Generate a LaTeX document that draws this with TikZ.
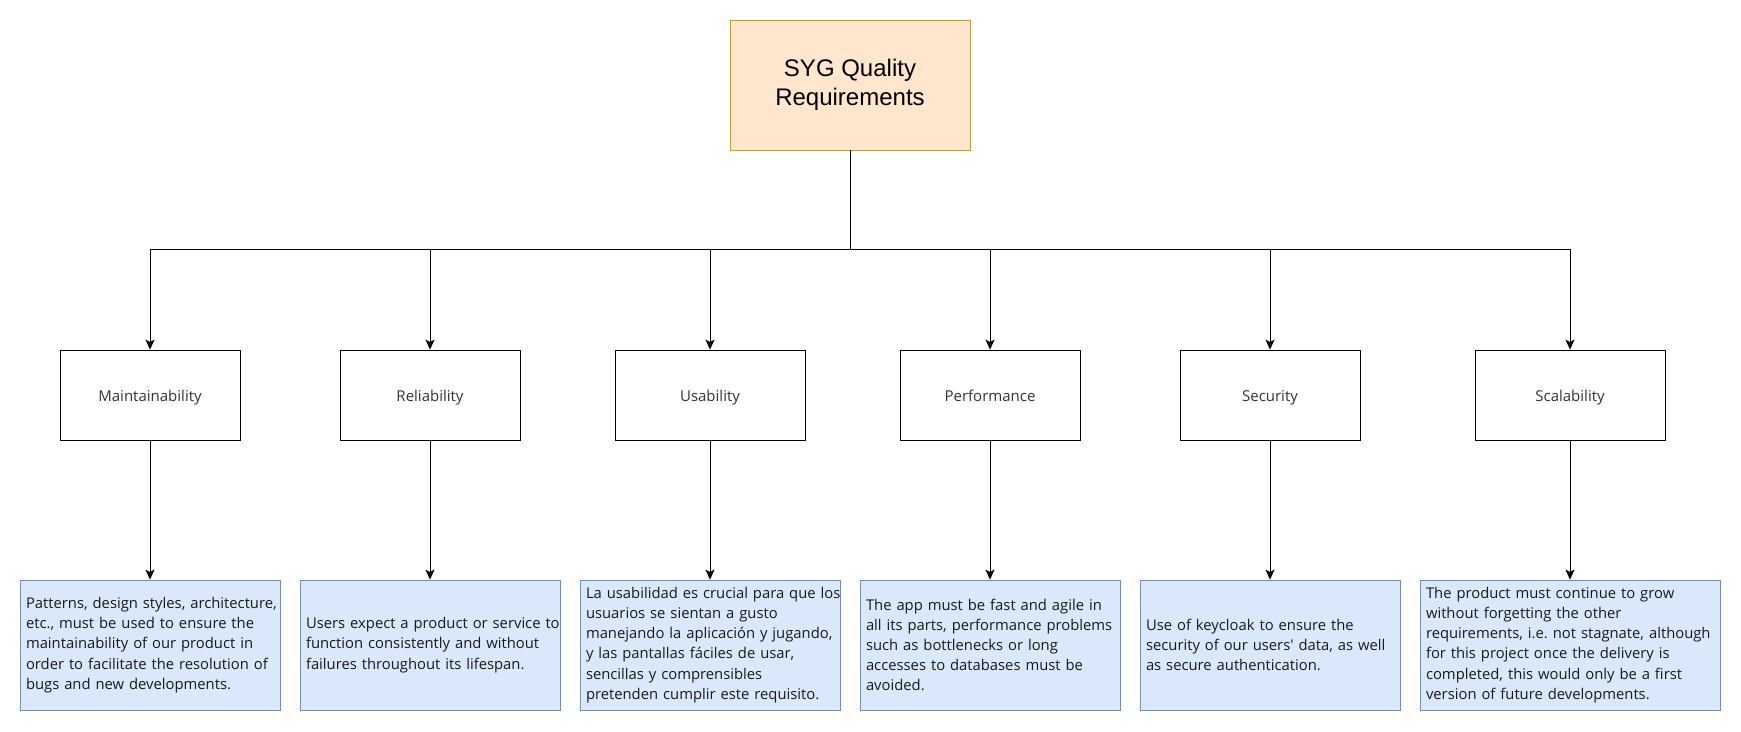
\documentclass[tikz,border=0pt]{standalone}
\usepackage{fontspec}
\setmainfont{Open Sans}[Ligatures=TeXOff]
\newfontfamily\titlefont{Liberation Sans}
\usetikzlibrary{arrows.meta, positioning}
\frenchspacing

\definecolor{titlefill}{HTML}{FFE6CC}
\definecolor{titleline}{HTML}{D79B00}
\definecolor{descfill}{HTML}{DAE8FC}
\definecolor{descline}{HTML}{6C8EBF}
\definecolor{labeltext}{HTML}{333333}

\tikzset{
  mainbox/.style={draw=titleline, fill=titlefill, minimum width=120pt, minimum height=65pt,
    align=center, font=\titlefont\fontsize{12}{14.5}\selectfont},
  catbox/.style={draw, fill=white, minimum width=90pt, minimum height=45pt,
    text height=8.5pt, text depth=1.7pt,
    font=\fontsize{7.5}{9}\selectfont, text=labeltext},
  descbox/.style={draw=descline, fill=descfill, inner xsep=3pt, text width=124pt,
    minimum height=65pt, align=left, font=\fontsize{7.4}{10.1}\selectfont, text=black!90,
    execute at begin node={\rightskip=-8pt plus 1fil}},
  arr/.style={-{Stealth[length=5pt,width=4.5pt,inset=1.2pt]}, line width=0.5pt},
}

\begin{document}
\begin{tikzpicture}[x=0.5pt, y=-0.5pt]
\useasboundingbox (0,0) rectangle (1741,732);

% Root
\node[mainbox] (root) at (850,85) {SYG Quality\\Requirements};
\coordinate (bus) at (850,250);

% Quality attributes
\node[catbox] (maint) at (150,395) {Maintainability};
\node[catbox] (reli)  at (430,395) {Reliability};
\node[catbox, minimum width=95pt] (usab) at (710,395) {Usability};
\node[catbox] (perf)  at (990,395) {Performance};
\node[catbox] (secu)  at (1270,395) {Security};
\node[catbox, minimum width=95pt] (scal) at (1570,395) {Scalability};

% Descriptions
\node[descbox] (dmaint) at (150,645) {Patterns, design styles, architecture,\\etc., must be used to ensure the\\maintainability of our product in\\order to facilitate the resolution of\\bugs and new developments.};
\node[descbox] (dreli) at (430,645) {Users expect a product or service to\\function consistently and without\\failures throughout its lifespan.};
\node[descbox] (dusab) at (710,645) {La usabilidad es crucial para que los\\usuarios se sientan a gusto\\manejando la aplicación y jugando,\\y las pantallas fáciles de usar,\\sencillas y comprensibles\\pretenden cumplir este requisito.};
\node[descbox] (dperf) at (990,645) {The app must be fast and agile in\\all its parts, performance problems\\such as bottlenecks or long\\accesses to databases must be\\avoided.};
\node[descbox] (dsecu) at (1270,645) {Use of keycloak to ensure the\\security of our users' data, as well\\as secure authentication.};
\node[descbox, text width=144pt] (dscal) at (1570,645) {The product must continue to grow\\without forgetting the other\\requirements, i.e. not stagnate, although\\for this project once the delivery is\\completed, this would only be a first\\version of future developments.};

% Tree connectors
\draw[line width=0.5pt] (root.south) -- (bus);
\draw[arr] (bus) -| (maint.north);
\draw[arr] (bus) -| (reli.north);
\draw[arr] (bus) -| (usab.north);
\draw[arr] (bus) -| (perf.north);
\draw[arr] (bus) -| (secu.north);
\draw[arr] (bus) -| (scal.north);

% Attribute to description
\draw[arr] (maint) -- (dmaint);
\draw[arr] (reli) -- (dreli);
\draw[arr] (usab) -- (dusab);
\draw[arr] (perf) -- (dperf);
\draw[arr] (secu) -- (dsecu);
\draw[arr] (scal) -- (dscal);
\end{tikzpicture}
\end{document}
